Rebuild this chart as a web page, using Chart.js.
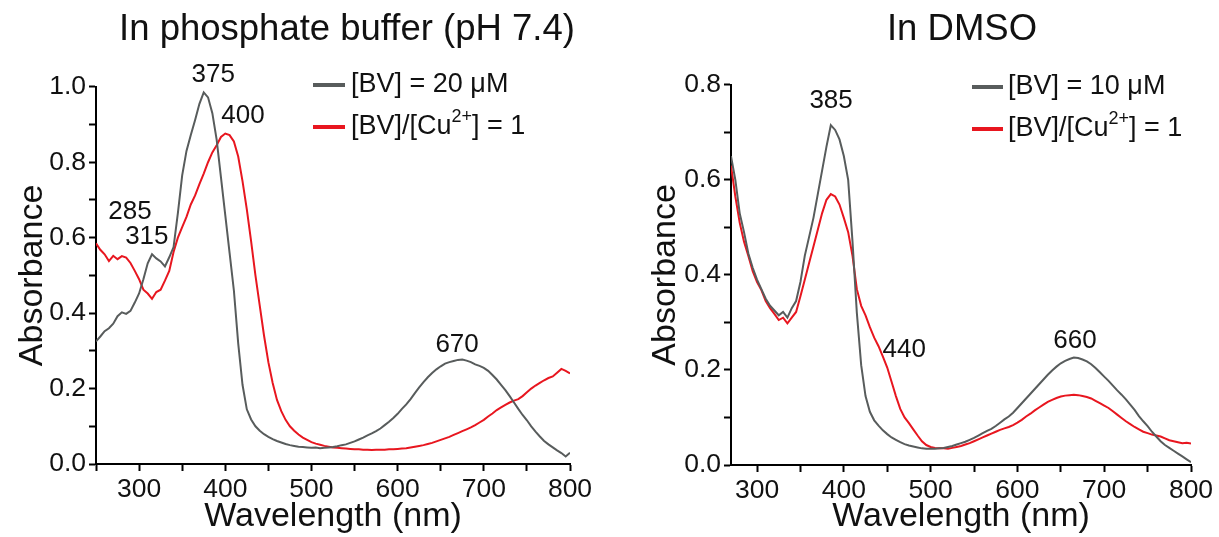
<!DOCTYPE html>
<html>
<head>
<meta charset="utf-8">
<script src="https://cdn.jsdelivr.net/npm/chart.js@4"></script>
<style>
  html, body { margin: 0; padding: 0; background: #fff; overflow: hidden; }
  body { width: 1219px; height: 537px; position: relative; }
  .box { position: absolute; top: 0; height: 537px; }
  #left { left: 0; width: 694px; }
  #right { left: 640px; width: 644px; }
</style>
</head>
<body>
<div class="box" id="left"><canvas id="bufChart" width="694" height="537"></canvas></div>
<div class="box" id="right"><canvas id="dmsoChart" width="644" height="537"></canvas></div>
<script>
// ---- phosphate buffer (pH 7.4) ----
const bufWl = [
  250,255,260,265,270,275,280,285,290,295,
  300,305,310,315,320,325,330,335,340,345,
  350,355,360,365,370,375,380,385,390,395,
  400,405,410,415,420,425,430,435,440,445,
  450,455,460,465,470,475,480,485,490,495,
  500,505,510,515,520,525,530,535,540,545,
  550,555,560,565,570,575,580,585,590,595,
  600,605,610,615,620,625,630,635,640,645,
  650,655,660,665,670,675,680,685,690,695,
  700,705,710,715,720,725,730,735,740,745,
  750,755,760,765,770,775,780,785,790,795,
  800
];
const bufBV = [
  .325,.338,.352,.36,.372,.392,.402,.398,.406,.428,
  .452,.49,.532,.556,.545,.537,.524,.548,.575,.665,
  .765,.83,.872,.912,.955,.985,.972,.93,.86,.76,
  .66,.56,.46,.32,.21,.145,.118,.1,.088,.079,
  .072,.066,.061,.057,.053,.05,.048,.046,.045,.044,
  .043,.044,.042,.043,.044,.045,.047,.05,.052,.056,
  .06,.065,.07,.076,.081,.087,.094,.103,.112,.122,
  .133,.146,.158,.172,.188,.203,.217,.23,.241,.251,
  .259,.266,.27,.273,.276,.277,.274,.27,.264,.26,
  .255,.247,.236,.224,.21,.196,.18,.163,.146,.13,
  .116,.1,.086,.073,.061,.052,.044,.036,.029,.02,
  .03
];
const bufCu = [
  .585,.568,.556,.538,.552,.543,.551,.547,.533,.512,
  .49,.462,.452,.438,.456,.462,.486,.512,.562,.6,
  .628,.655,.688,.712,.742,.77,.8,.826,.845,.867,
  .876,.872,.855,.815,.75,.675,.59,.5,.42,.34,
  .27,.215,.17,.14,.117,.1,.088,.078,.07,.064,
  .058,.054,.051,.048,.046,.044,.043,.042,.041,.04,
  .039,.039,.038,.038,.037,.038,.038,.038,.039,.039,
  .04,.041,.042,.044,.046,.048,.05,.053,.056,.06,
  .064,.068,.072,.077,.082,.087,.092,.097,.103,.11,
  .117,.126,.134,.143,.15,.157,.163,.168,.172,.18,
  .19,.2,.208,.215,.222,.228,.232,.242,.252,.247,
  .24
];
const bufLabels = ['[BV] = 20 \u03bcM', '[BV]/[Cu^{2+}] = 1'];
const bufTicksX = [300, 400, 500, 600, 700, 800];

// ---- DMSO ----
const dmsoWl = [
  270,275,280,285,290,295,300,305,310,315,
  320,325,330,335,340,345,350,355,360,365,
  370,375,380,385,390,395,400,405,410,415,
  420,425,430,435,440,445,450,455,460,465,
  470,475,480,485,490,495,500,505,510,515,
  520,525,530,535,540,545,550,555,560,565,
  570,575,580,585,590,595,600,605,610,615,
  620,625,630,635,640,645,650,655,660,665,
  670,675,680,685,690,695,700,705,710,715,
  720,725,730,735,740,745,750,755,760,765,
  770,775,780,785,790,795,800
];
const dmsoBV = [
  .65,.6,.53,.49,.445,.415,.39,.37,.35,.335,
  .325,.315,.322,.31,.33,.345,.385,.44,.48,.52,
  .57,.62,.67,.715,.705,.685,.65,.6,.47,.32,
  .21,.145,.112,.094,.083,.073,.065,.058,.053,.048,
  .044,.041,.039,.037,.035,.034,.034,.034,.035,.036,
  .038,.04,.043,.046,.049,.053,.057,.062,.067,.072,
  .076,.082,.089,.096,.102,.11,.12,.13,.14,.15,
  .16,.17,.18,.19,.199,.207,.214,.219,.223,.226,
  .225,.222,.218,.212,.204,.195,.186,.177,.167,.157,
  .148,.138,.127,.116,.103,.092,.082,.07,.06,.05,
  .042,.036,.03,.024,.018,.012,.006
];
const dmsoCu = [
  .63,.565,.51,.47,.44,.408,.385,.368,.345,.33,
  .318,.305,.31,.298,.31,.322,.355,.39,.425,.46,
  .495,.53,.558,.57,.565,.548,.52,.49,.44,.37,
  .335,.315,.29,.268,.25,.228,.205,.175,.145,.118,
  .1,.088,.075,.062,.05,.042,.038,.036,.035,.035,
  .034,.036,.038,.04,.043,.046,.05,.054,.058,.062,
  .066,.07,.074,.077,.08,.084,.089,.095,.102,.108,
  .115,.121,.127,.133,.137,.141,.144,.146,.147,.148,
  .147,.145,.143,.14,.135,.13,.125,.12,.113,.106,
  .099,.092,.086,.08,.075,.07,.067,.064,.062,.06,
  .056,.052,.05,.048,.046,.047,.045
];
const dmsoLabels = ['[BV] = 10 \u03bcM', '[BV]/[Cu^{2+}] = 1'];

const GRAY = '#585c5c';
const RED = '#e8161f';
const FONT = '"Liberation Sans", Arial, sans-serif';
const INK = '#111';

Chart.defaults.font.family = FONT;
Chart.defaults.color = INK;

// split "Cu^{2+}" into normal / superscript pieces
function richParts(label) {
  const parts = [];
  const re = /\^\{([^}]*)\}/g;
  let last = 0, m;
  while ((m = re.exec(label))) {
    parts.push({ t: label.slice(last, m.index), sup: false });
    parts.push({ t: m[1], sup: true });
    last = re.lastIndex;
  }
  parts.push({ t: label.slice(last), sup: false });
  return parts;
}

const spectrumText = {
  id: 'spectrumText',
  afterDraw(chart, args, opts) {
    const { ctx } = chart;
    const x = chart.scales.x, y = chart.scales.y;
    ctx.save();
    ctx.fillStyle = INK;
    ctx.textBaseline = 'middle';
    ctx.textAlign = 'center';
    ctx.font = opts.peakSize + 'px ' + FONT;
    opts.peaks.forEach(p => {
      ctx.fillText(p.text, x.getPixelForValue(p.x), y.getPixelForValue(p.y));
    });

    // legend
    const lg = opts.legend;
    ctx.textAlign = 'left';
    chart.data.datasets.forEach((ds, i) => {
      const ly = lg.y + i * lg.rowGap;
      ctx.strokeStyle = ds.borderColor;
      ctx.lineWidth = 4;
      ctx.beginPath();
      ctx.moveTo(lg.x, ly);
      ctx.lineTo(lg.x + lg.sample, ly);
      ctx.stroke();
      let tx = lg.textX;
      richParts(ds.label).forEach(part => {
        const size = part.sup ? Math.round(lg.size * 0.68) : lg.size;
        ctx.font = size + 'px ' + FONT;
        ctx.fillText(part.t, tx, part.sup ? ly - lg.size * 0.36 : ly);
        tx += ctx.measureText(part.t).width;
      });
    });
    ctx.restore();
  }
};

function makeChart(id, cfg) {
  const toPts = vals => cfg.wl.map((w, i) => ({ x: w, y: vals[i] }));
  return new Chart(document.getElementById(id), {
    type: 'line',
    data: {
      datasets: [
        { label: cfg.labels[0], data: toPts(cfg.bv), borderColor: GRAY, borderWidth: 2,
          pointRadius: 0, tension: 0, fill: false },
        { label: cfg.labels[1], data: toPts(cfg.cu), borderColor: RED, borderWidth: 2,
          pointRadius: 0, tension: 0, fill: false }
      ]
    },
    options: {
      responsive: false,
      animation: false,
      layout: { padding: 0 },
      plugins: {
        legend: { display: false },
        tooltip: { enabled: false },
        title: {
          display: true, text: cfg.title, color: INK,
          font: { size: 36.5, weight: 'normal' },
          padding: { top: 8, bottom: cfg.titleGap }
        },
        spectrumText: cfg.text
      },
      scales: {
        x: {
          type: 'linear', min: cfg.xMin, max: 800,
          ticks: {
            stepSize: 50, autoSkip: false, maxRotation: 0, includeBounds: false,
            color: INK, font: { size: 26.5 }, padding: 3,
            callback: v => bufTicksX.includes(v) ? String(v) : ''
          },
          grid: { drawOnChartArea: false, drawTicks: true, tickLength: 7, tickColor: '#000', tickWidth: 2 },
          border: { color: '#000', width: 2 },
          title: { display: true, text: 'Wavelength (nm)', color: INK, font: { size: 34 },
                   padding: { top: 0, bottom: 0 } },
          afterFit: s => { s.height = cfg.xAxisH; }
        },
        y: {
          min: 0, max: cfg.yMax,
          ticks: {
            stepSize: 0.1, autoSkip: false, color: INK, font: { size: 26.5 }, padding: 3,
            callback: v => Math.round(v * 10) % 2 === 0 ? v.toFixed(1) : ''
          },
          grid: { drawOnChartArea: false, drawTicks: true, tickLength: 7, tickColor: '#000', tickWidth: 2 },
          border: { color: '#000', width: 2 },
          title: { display: true, text: 'Absorbance', color: INK, font: { size: 34 },
                   padding: { top: cfg.yTitlePad, bottom: 0 } },
          afterFit: s => { s.width = cfg.yAxisW; }
        },
        // empty right-hand band, keeps the title centred like the reference
        spacer: {
          position: 'right', display: true,
          ticks: { display: false },
          grid: { display: false, drawTicks: false },
          border: { display: false },
          afterFit: s => { s.width = cfg.padRight; }
        }
      }
    },
    plugins: [spectrumText]
  });
}

makeChart('bufChart', {
  wl: bufWl, bv: bufBV, cu: bufCu, labels: bufLabels,
  title: 'In phosphate buffer (pH 7.4)',
  xMin: 250, yMax: 1.0, padRight: 124, titleGap: 35, xAxisH: 73, yAxisW: 96, yTitlePad: 12,
  text: {
    peakSize: 26,
    peaks: [
      { text: '375', x: 386, y: 1.032 },
      { text: '400', x: 420.5, y: 0.923 },
      { text: '285', x: 289.5, y: 0.668 },
      { text: '315', x: 309, y: 0.602 },
      { text: '670', x: 669, y: 0.316 }
    ],
    legend: { x: 313, sample: 32, textX: 351, y: 85, rowGap: 42, size: 27 }
  }
});

makeChart('dmsoChart', {
  wl: dmsoWl, bv: dmsoBV, cu: dmsoCu, labels: dmsoLabels,
  title: 'In DMSO',
  xMin: 270, yMax: 0.8, padRight: 93, titleGap: 33, xAxisH: 72, yAxisW: 91, yTitlePad: 5,
  text: {
    peakSize: 26,
    peaks: [
      { text: '385', x: 385.3, y: 0.766 },
      { text: '440', x: 469.6, y: 0.243 },
      { text: '660', x: 666.4, y: 0.262 }
    ],
    legend: { x: 332, sample: 31, textX: 368, y: 87, rowGap: 42, size: 27 }
  }
});
</script>
</body>
</html>
